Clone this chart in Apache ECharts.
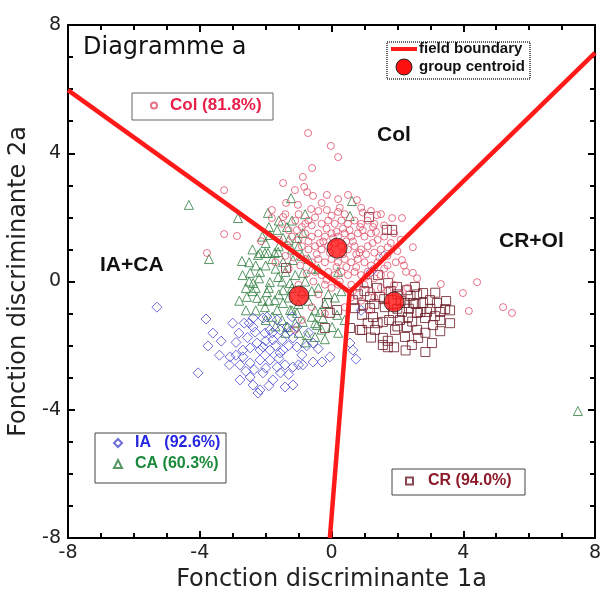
<!DOCTYPE html>
<html><head><meta charset="utf-8">
<script src="https://cdn.jsdelivr.net/npm/echarts@6/dist/echarts.min.js"></script>
<style>html,body{margin:0;padding:0;background:#fff}#c{width:603px;height:593px}</style>
</head><body><div id="c"></div>
<script>
const xTicks = [-8, -4, 0, 4, 8];
const yTicks = [-8, -4, 0, 4, 8];
const boundaryLeft = [[-8, 5.97], [0.55, -0.33]];
const boundaryRight = [[0.55, -0.33], [8, 7.13]];
const boundaryDown = [[0.55, -0.33], [-0.05, -8]];
const centroids = [[0.17, 1.04], [-0.99, -0.45], [1.90, -0.64]];

const colPts = [
 [-0.71,4.63],[-0.02,4.23],[0.20,3.88],[-0.59,3.54],[-1.47,3.07],[-0.87,3.26],[-3.26,2.85],[-1.11,2.85],[-0.83,2.95],[-0.74,2.79],
 [-0.56,2.67],[-0.14,2.70],[0.20,2.57],[0.50,2.70],[0.77,2.54],[-1.38,2.45],[-1.02,2.39],[-0.62,2.26],[-0.14,2.23],[0.20,2.17],
 [-1.81,2.23],[-1.81,1.98],[-1.47,2.01],[-3.26,1.48],[-2.87,1.42],[-2.14,1.26],[-3.78,0.89],
 [3.32,-0.08],[4.42,-0.02],[3.99,-0.36],[4.17,-0.92],[5.21,-0.80],[5.48,-0.98],[2.47,0.27],[2.26,0.30],[2.14,0.67],
 [1.84,1.98],[2.14,1.98],[1.38,2.07],[2.47,1.07],[1.71,1.07],[1.26,1.70],[0.87,1.70],
 [-1.5,1.8],[-1.3,1.6],[-1.1,1.9],[-0.9,1.7],[-0.7,1.9],[-0.5,2.0],[-0.3,1.8],[-0.1,1.9],[0.1,1.8],[0.3,1.9],[0.5,1.8],[0.7,1.9],[0.9,1.8],[1.1,1.9],[1.3,1.8],
 [-1.2,1.4],[-1.0,1.3],[-0.8,1.5],[-0.6,1.4],[-0.4,1.5],[-0.2,1.4],[0.0,1.5],[0.2,1.4],[0.4,1.5],[0.6,1.4],[0.8,1.5],[1.0,1.4],[1.2,1.5],[1.4,1.3],[1.6,1.4],
 [-0.9,1.1],[-0.7,1.0],[-0.5,1.1],[-0.3,1.0],[-0.1,1.1],[0.1,1.2],[0.3,1.1],[0.5,1.0],[0.7,1.1],[0.9,1.0],[1.1,1.1],[1.3,0.9],[1.5,1.0],
 [-0.8,0.7],[-0.6,0.6],[-0.4,0.7],[-0.2,0.6],[0.0,0.7],[0.2,0.6],[0.4,0.7],[0.6,0.6],[0.8,0.7],[1.0,0.6],[1.2,0.5],[1.4,0.6],[1.7,0.5],
 [-0.5,0.3],[-0.3,0.2],[-0.1,0.3],[0.1,0.2],[0.3,0.3],[0.5,0.2],[0.7,0.3],[0.9,0.2],[1.1,0.3],[1.3,0.1],[1.5,0.2],[1.8,0.2],
 [-0.2,-0.1],[0.0,-0.2],[0.2,-0.1],[0.6,-0.1],[0.8,-0.2],[1.0,-0.1],[1.2,-0.3],[1.5,-0.2],[1.9,-0.1],
 [0.6,-0.5],[0.9,-0.6],[1.3,-0.5],[2.1,-0.4],[2.3,-0.2],[0.4,-0.8],[-0.4,-0.4],[-0.9,-1.2],[-1.1,-1.5],
 [-1.3,0.4],[-1.0,-0.1],[-0.6,1.75],[0.35,1.65],[-0.25,1.25],[0.65,1.25],[1.05,0.85],[-0.45,0.85],[0.15,0.45],[0.75,0.45],
 [-1.4,2.1],[-1.0,2.1],[-0.4,2.2],[0.0,2.05],[0.4,2.1],[0.95,2.15],[1.5,2.1],[1.6,1.75],[1.9,1.5],[2.1,1.3],[1.8,1.2],[2.0,0.95],[1.7,0.8],[2.2,0.5],[1.95,0.6],
 [-1.35,1.15],[-1.15,0.75],[-0.95,0.5],[-0.75,0.25],[-0.55,0.0],[-0.15,0.05],[0.25,0.0],[0.45,0.45],[0.85,0.9],[1.25,1.2],[1.45,0.75],[1.6,0.4],[1.05,0.15],
 [0.65,-0.3],[0.35,0.85],[-0.05,0.9],[-0.35,1.2],[-0.7,1.25],[-1.05,1.6],[0.55,1.6],[0.95,1.6],[1.35,1.55],[-0.15,1.65],[0.15,1.55],[-0.8,1.8],
 [0.25,2.3],[-0.3,2.45],[0.9,2.3],[1.2,2.2],[-1.6,1.3],[-1.4,0.8],[-1.7,0.6],[-0.9,-0.4],[-0.6,-0.8],[-0.2,-1.0],[1.7,-0.3],[2.6,0.1],[1.15,-0.9],
 [0.05,1.35],[0.45,1.25],[0.75,0.85],[1.3,0.4]
];
const iaPts = [
 [-5.30,-0.80],[-3.81,-1.17],[-3.60,-1.61],[-3.35,-1.86],[-3.75,-2.01],[-2.81,-1.61],[-4.05,-2.85],[-3.08,-2.35],[-2.38,-1.14],[-2.08,-1.14],
 [-2.32,-1.58],[-2.02,-1.61],[-1.87,-1.51],[-1.56,-1.51],[-2.47,-2.07],[-2.26,-1.92],[-2.69,-2.35],[-2.78,-2.60],[-2.47,-2.54],[-2.17,-2.45],
 [-1.87,-2.45],[-1.56,-2.23],[-1.47,-2.14],[-1.17,-1.76],[-1.05,-2.04],[-0.87,-2.60],[-1.17,-2.67],[-1.41,-2.60],[-1.65,-2.67],[-2.08,-2.85],
 [-1.78,-3.07],[-2.38,-3.23],[-2.17,-3.38],[-2.23,-3.48],[-1.41,-3.29],[-1.17,-3.23],[-0.56,-2.51],[-0.29,-2.51],[-0.05,-2.35],[-0.56,-1.92],
 [-1.78,-1.82],[-1.50,-1.82],[-2.69,-2.14],[-1.87,-2.14],[-2.17,-2.14],[-1.96,-1.11],[-2.08,-2.04],[-2.78,-3.07],[-2.47,-2.98],[-1.35,-1.42],
 [-1.05,-1.42],[-0.90,-2.29],[-2.38,-1.42],[-1.65,-1.20],[0.65,-2.14],[0.74,-2.42],[0.56,-1.92],
 [-1.3,-2.9],[-2.6,-2.8],[-2.0,-2.7],[-1.6,-2.4],[-2.9,-1.9],[-0.7,-1.6],[-1.2,-1.1],[-2.5,-1.3],[-3.0,-1.3],[-3.1,-2.6],
 [1.6,0.8],[1.2,0.3],[0.9,-0.9],
 [-3.4,-2.3],[-2.9,-2.3],[-2.55,-1.75],[-2.0,-1.85],[-1.7,-2.0],[-1.3,-2.0],[-1.0,-2.6],[-1.55,-2.85],[-2.35,-2.75],[-1.9,-3.25],
 [-0.75,-2.0],[-0.4,-2.1],[-2.65,-1.3],[-1.8,-1.6],[-1.25,-1.55]
];
const caPts = [
 [-4.33,2.39],[-3.72,0.70],[-2.72,0.64],[-2.84,1.98],[-1.93,2.14],[-1.23,2.60],[0.62,2.51],[0.56,2.04],[7.48,-4.04],
 [-2.23,0.83],[-2.02,0.89],[-1.72,0.89],[-2.47,0.27],[-2.17,0.30],[-2.38,-0.05],[-2.57,-0.48],[-2.26,-0.51],[-1.87,-0.02],[-1.62,0.14],
 [-1.96,-0.33],[-1.72,-0.58],[-1.47,-0.67],[-1.65,-0.89],[-1.26,-0.89],[-1.05,-0.98],[-0.87,-1.26],[-0.74,-1.67],[-0.50,-1.73],[-0.44,-1.36],
 [-0.26,-1.14],[0.02,-1.42],[0.17,-1.04],[-1.47,0.61],[-1.17,0.67],[-0.87,0.27],[-1.26,-0.05],[-1.47,-0.27],[-2.02,-0.80],[-1.35,-1.42],
 [-1.65,1.61],[-1.35,1.70],[-1.87,1.45],[-1.47,1.36],[-1.05,1.36],[-0.87,1.51],[-2.17,0.89],[-1.93,0.89],[-1.62,0.92],
 [-2.3,0.5],[-2.0,0.5],[-1.7,0.4],[-1.4,0.3],[-1.1,0.2],[-0.8,0.0],[-2.2,0.1],[-1.9,-0.2],[-1.6,-0.4],[-1.3,-0.5],[-1.0,-0.7],
 [-0.7,-0.6],[-0.5,-0.9],[-0.2,-0.7],[0.1,-0.5],[-2.4,-0.3],[-2.1,-0.6],[-1.8,-1.1],[-1.5,-1.2],[-1.1,-1.3],[-0.6,-1.1],[-0.3,-1.5],
 [0.4,-1.2],[-2.6,-0.2],[-2.0,1.2],[-1.6,1.1],[-1.2,1.0],[-0.9,0.8],[-0.6,0.4],[-0.4,-0.2],[-1.2,1.9],[-0.8,2.1],[0.2,0.3],[0.3,-0.3],
 [-2.7,0.2],[-2.5,0.0],[-2.8,-0.6],[-2.6,-0.9],[-2.3,-0.9],[-2.0,-1.2],[-1.7,-1.4],[-1.4,-1.6],[-1.0,-1.6],[-0.8,-1.9],[-0.5,-1.3],
 [-0.2,-1.8],[0.2,-1.6],[-2.5,0.6],[-2.4,1.0],[-2.1,1.4],[-1.9,1.7],[-1.6,1.9],[-1.3,1.3],[-1.0,1.1],[-0.7,0.7],[-0.4,0.4],
 [-1.8,0.7],[-1.5,0.0],[-1.2,-0.2],[-0.9,-0.3],[-0.6,-0.3],[-1.9,-0.6],[-2.3,-0.2],[-0.1,-0.4],[-0.35,-0.95],[-1.2,-0.9]
];
const crPts = [
 [1.41,0.20],[1.72,-0.05],[1.99,-0.17],[2.29,-0.27],[2.53,-0.17],[2.78,-0.36],[2.99,-0.58],[3.20,-0.67],[3.48,-0.61],[3.45,-0.86],
 [3.14,-1.08],[3.08,-1.36],[2.84,-1.14],[2.60,-0.98],[2.32,-1.11],[2.08,-1.20],[1.93,-1.51],[2.23,-1.73],[2.63,-1.76],[2.44,-1.98],
 [3.05,-1.92],[1.56,-1.98],[1.56,-1.76],[1.32,-1.51],[1.56,-1.26],[1.26,-1.11],[1.17,-0.83],[0.93,-1.04],[0.93,-1.51],[1.17,-0.48],
 [1.47,-0.48],[0.96,-0.73],[0.71,-0.83],[0.65,-0.58],[1.38,-0.20],[1.08,-0.05],[2.47,-0.67],[2.23,-0.67],[2.78,-0.67],[2.90,-0.95],
 [2.60,-1.51],[2.29,-1.42],[1.62,-0.80],[2.14,-0.95],[1.87,-0.98],[0.56,-1.45],[-0.20,-1.45],[0.87,-1.51],[-0.14,-0.67],[-0.05,-0.98],
 [0.17,-0.89],[-1.38,0.42],[1.14,2.01],[1.68,1.61],[1.84,1.61],[1.71,-1.85],[1.71,-2.05],[2.0,-0.4],[2.6,-0.4],[3.3,-1.2],
 [1.8,-0.3],[2.1,-0.6],[2.4,-0.45],[2.7,-0.95],[3.0,-0.85],[3.3,-0.95],[3.6,-0.9],[3.6,-1.3],[3.3,-1.55],[2.85,-1.6],
 [2.45,-1.25],[2.0,-1.4],[1.75,-1.2],[1.4,-1.3],[1.1,-1.3],[1.2,-1.75],[1.9,-2.05],[2.25,-2.15],[2.85,-2.2],[0.8,-0.4],
 [1.0,-0.3],[1.3,-0.7],[1.6,-0.55],[2.55,-0.7],[3.15,-0.35],[2.0,-0.85],[2.35,-0.85]
];

const chart = echarts.init(document.getElementById('c'));
const FONT = "'Liberation Sans', Arial, sans-serif";
const NFONT = "'DejaVu Sans', sans-serif";
const lineStyleB = {color:'#ff1a1a', width:4.5};
function bSeries(d){return {name:'field boundary', type:'line', data:d, symbol:'none', lineStyle:lineStyleB, itemStyle:{color:'#ff1a1a'}, z:5, animation:false};}
const hollow = c => ({color:'rgba(255,255,255,0)', borderColor:c, borderWidth:1});
function frameAxis(pos){
  return {type:'value', min:-8, max:8, interval:4, position:pos,
     axisLine:{onZero:false, lineStyle:{color:'#000', width:2}},
     axisTick:{inside:true, length:7, lineStyle:{color:'#000', width:2}},
     minorTick:{show:true, splitNumber:4, length:5, lineStyle:{color:'#000', width:2}},
     axisLabel:{show:false}, splitLine:{show:false}};
}

chart.setOption({
  animation:false,
  backgroundColor:'#fff',
  grid:{left:68, right:8, top:25, bottom:55, show:false, containLabel:false, outerBoundsMode:'none'},
  xAxis:[
    {type:'value', min:xTicks[0], max:xTicks[xTicks.length-1], interval:4, position:'bottom',
     name:'Fonction discriminante 1a', nameLocation:'middle', nameGap:28,
     nameTextStyle:{fontFamily:NFONT, fontSize:24, color:'#222'},
     axisLine:{onZero:false, lineStyle:{color:'#000', width:2}},
     axisTick:{inside:true, length:7, lineStyle:{color:'#000', width:2}},
     minorTick:{show:true, splitNumber:4, length:5, lineStyle:{color:'#000', width:2}},
     axisLabel:{fontFamily:NFONT, fontSize:19, color:'#222', margin:6},
     splitLine:{show:false}},
    frameAxis('top')
  ],
  yAxis:[
    {type:'value', min:yTicks[0], max:yTicks[yTicks.length-1], interval:4, position:'left',
     name:'Fonction discriminante 2a', nameLocation:'middle', nameGap:23,
     nameTextStyle:{fontFamily:NFONT, fontSize:24, color:'#222'},
     axisLine:{onZero:false, lineStyle:{color:'#000', width:2}},
     axisTick:{inside:true, length:7, lineStyle:{color:'#000', width:2}},
     minorTick:{show:true, splitNumber:4, length:5, lineStyle:{color:'#000', width:2}},
     axisLabel:{fontFamily:NFONT, fontSize:19, color:'#222', margin:7},
     splitLine:{show:false}},
    frameAxis('right')
  ],
  legend:[
    {left:150, top:97, itemWidth:6, itemHeight:6, padding:0, itemGap:0,
     data:[{name:'Col (81.8%)', icon:'circle', textStyle:{color:'#e8204a'}}],
     textStyle:{fontFamily:FONT, fontWeight:'bold', fontSize:17, padding:[0,0,0,8]}},
    {left:113, top:435, orient:'vertical', itemWidth:8, itemHeight:8, itemGap:5, padding:0,
     data:[{name:'IA   (92.6%)', icon:'diamond', textStyle:{color:'#2626e0'}},
           {name:'CA (60.3%)', icon:'triangle', textStyle:{color:'#1a8a3a'}}],
     textStyle:{fontFamily:FONT, fontWeight:'bold', fontSize:16, padding:[0,0,0,8]}},
    {left:405, top:473, itemWidth:7, itemHeight:7, padding:0,
     data:[{name:'CR (94.0%)', icon:'rect', textStyle:{color:'#8b1a2a'}}],
     textStyle:{fontFamily:FONT, fontWeight:'bold', fontSize:16, padding:[0,0,0,10]}}
  ],
  graphic:[
    {type:'rect', shape:{x:132, y:93, width:141, height:27}, style:{fill:'none', stroke:'#666', lineWidth:1}, z:1},
    {type:'rect', shape:{x:95, y:433, width:131, height:50}, style:{fill:'none', stroke:'#444', lineWidth:1}, z:1},
    {type:'rect', shape:{x:392, y:469, width:133, height:26}, style:{fill:'none', stroke:'#444', lineWidth:1}, z:1},
    {type:'rect', shape:{x:387, y:42, width:143, height:37}, style:{fill:'#fff', stroke:'#333', lineWidth:1.5, lineDash:[1,1]}, z:10},
    {type:'line', shape:{x1:391, y1:49, x2:417, y2:49}, style:{stroke:'#ff1a1a', lineWidth:4}, z:11},
    {type:'circle', shape:{cx:404, cy:67, r:8}, style:{fill:'#ff1010', stroke:'#222', lineWidth:1}, z:11},
    {type:'text', x:419, y:49, style:{text:'field boundary', fontFamily:FONT, fontWeight:'bold', fontSize:15, fill:'#111', verticalAlign:'middle'}, z:11},
    {type:'text', x:419, y:67, style:{text:'group centroid', fontFamily:FONT, fontWeight:'bold', fontSize:15, fill:'#111', verticalAlign:'middle'}, z:11},
    {type:'text', x:83, y:48, style:{text:'Diagramme a', fontFamily:NFONT, fontSize:24, fill:'#111', verticalAlign:'middle'}},
    {type:'text', x:377, y:135, style:{text:'Col', fontFamily:FONT, fontWeight:'bold', fontSize:21, fill:'#111', verticalAlign:'middle'}},
    {type:'text', x:100, y:265, style:{text:'IA+CA', fontFamily:FONT, fontWeight:'bold', fontSize:21, fill:'#111', verticalAlign:'middle'}},
    {type:'text', x:499, y:241, style:{text:'CR+Ol', fontFamily:FONT, fontWeight:'bold', fontSize:21, fill:'#111', verticalAlign:'middle'}}
  ],
  series:[
    {name:'CR (94.0%)', type:'scatter', data:crPts, symbol:'rect', symbolSize:9, itemStyle:hollow('#6b1a25'), z:2},
    {name:'CA (60.3%)', type:'scatter', data:caPts, symbol:'triangle', symbolSize:[9,9], itemStyle:hollow('#2e7d3e'), z:2},
    {name:'IA   (92.6%)', type:'scatter', data:iaPts, symbol:'diamond', symbolSize:[10,10], itemStyle:hollow('#4a4ad0'), z:2},
    {name:'Col (81.8%)', type:'scatter', data:colPts, symbol:'circle', symbolSize:7, itemStyle:hollow('#e0506a'), z:3},
    bSeries(boundaryLeft), bSeries(boundaryRight), bSeries(boundaryDown),
    {name:'group centroid', type:'scatter', data:centroids, symbol:'circle', symbolSize:20,
     itemStyle:{color:'#ff1010', borderColor:'#222', borderWidth:1}, z:6}
  ]
});
</script></body></html>
